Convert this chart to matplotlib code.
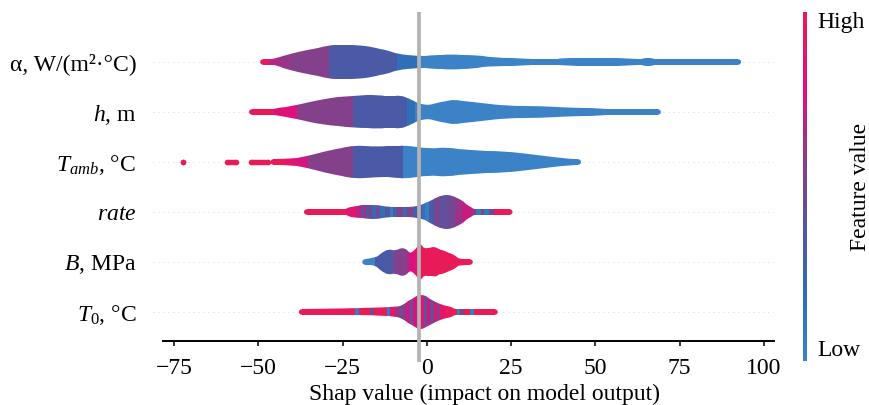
import numpy as np
import matplotlib
matplotlib.use("Agg")
import matplotlib.pyplot as plt
from matplotlib.colors import LinearSegmentedColormap
from matplotlib.patches import PathPatch
from matplotlib.path import Path
from matplotlib.cm import ScalarMappable

plt.rcParams['font.family'] = ['Liberation Serif', 'DejaVu Serif']
plt.rcParams['mathtext.fontset'] = 'custom'
plt.rcParams['mathtext.rm'] = 'Liberation Serif'
plt.rcParams['mathtext.it'] = 'Liberation Serif:italic'

# feature names, top to bottom
features = ['α, W/(m²·°C)', '$h$, m', '$T_{amb}$, °C', '$rate$', '$B$, MPa', '$T_0$, °C']

# violin outlines: shap value knots and half width (in row units)
alpha_x = [-48.7, -47.1, -44.6, -40.7, -35.7, -29.0, -25.8, -20.9, -15.9, -12.0, -9.0, -3.1, 1.9, 6.8,
           13.7, 19.7, 30.6, 31.5, 38.5, 39.0, 50.4, 62.2, 63.2, 64.2, 67.2, 67.7, 92.4]
alpha_w = [0.055, 0.055, 0.07, 0.154, 0.234, 0.334, 0.346, 0.34, 0.30, 0.234, 0.166, 0.12, 0.134, 0.154,
           0.134, 0.086, 0.066, 0.055, 0.055, 0.07, 0.085, 0.066, 0.055, 0.072, 0.072, 0.055, 0.055]
h_x = [-52.0, -45.6, -45.0, -38.7, -30.8, -21.9, -13.9, -11.0, -8.0, -5.0, -0.1, 3.9, 7.8, 13.7,
       23.6, 33.5, 43.4, 53.3, 53.8, 68.6]
h_w = [0.055, 0.055, 0.07, 0.146, 0.254, 0.326, 0.334, 0.32, 0.334, 0.254, 0.12, 0.2, 0.254, 0.2,
       0.12, 0.12, 0.086, 0.06, 0.055, 0.055]
tamb_x = [-45.6, -42.1, -35.2, -28.8, -21.9, -14.9, -9.0, -7.0, 0.9, 5.8, 12.8, 22.6, 32.6, 42.4, 44.9]
tamb_w = [0.055, 0.06, 0.114, 0.234, 0.334, 0.30, 0.32, 0.334, 0.266, 0.294, 0.234, 0.214, 0.146, 0.06, 0.055]
rate_x = [-35.7, -24.3, -24.0, -20.9, -17.4, -14.5, -11.5, -7.5, -4.5, -1.6, 0.4, 2.4, 4.4, 7.3,
          10.3, 12.3, 13.7, 14.7, 24.6]
rate_w = [0.055, 0.055, 0.07, 0.114, 0.146, 0.14, 0.10, 0.106, 0.106, 0.14, 0.2, 0.28, 0.334, 0.334,
          0.234, 0.12, 0.066, 0.055, 0.055]
b_x = [-18.4, -15.4, -13.5, -11.5, -9.5, -7.0, -5.0, -3.6, -2.6, -1.6, -0.6, 0.9, 2.4, 3.6, 4.8,
       7.3, 8.8, 9.8, 12.8]
b_w = [0.055, 0.07, 0.186, 0.266, 0.214, 0.30, 0.166, 0.24, 0.366, 0.34, 0.266, 0.28, 0.30, 0.25, 0.234,
       0.166, 0.10, 0.06, 0.055]
t0_x = [-37.2, -9.5, -6.5, -4.5, -2.6, -1.1, 0.4, 2.4, 4.4, 7.3, 8.3, 8.8, 20.2]
t0_w = [0.055, 0.07, 0.166, 0.26, 0.346, 0.34, 0.28, 0.2, 0.146, 0.10, 0.06, 0.055, 0.055]

# mean feature value (0 = low, 1 = high) in bins along each violin
alpha_edges = [-48.7, -47.0, -44.0, -40.7, -29.0, -9.0, -3.0, 92.4]
alpha_vals = [1.0, 0.68, 0.6, 0.55, 0.35, 0.17, 0.0]
h_edges = [-52.0, -45.6, -38.7, -21.9, -6.0, -3.5, 68.6]
h_vals = [1.0, 0.8, 0.55, 0.35, 0.17, 0.0]
tamb_edges = [-45.6, -42.1, -38.5, -35.2, -21.9, -7.0, 44.9]
tamb_vals = [1.0, 0.88, 0.75, 0.55, 0.35, 0.0]
rate_edges = [-35.7, -24.3, -21.0, -19.5, -18.8, -18.0, -17.0, -16.2, -15.0, -14.0, -12.5, -11.0, -10.0,
              -9.0, -7.0, -6.0, -4.0, -3.0, -1.5, -0.5, 0.5, 2.0, 4.0, 6.0, 8.3, 10.5, 13.3, 14.5, 16.0,
              17.0, 18.5, 20.0, 24.6]
rate_vals = [1.0, 0.88, 0.7, 0.45, 0.65, 0.4, 0.55, 0.25, 0.45, 0.2, 0.35, 0.05, 0.3,
             0.55, 0.2, 0.55, 0.3, 0.45, 0.15, 0.05, 0.35, 0.5, 0.42, 0.48, 0.6, 0.72, 0.6, 0.08,
             0.5, 0.1, 0.5, 1.0]
b_edges = [-18.4, -15.4, -10.5, -9.5, -6.0, -5.0, -3.5, -2.6, 12.8]
b_vals = [0.0, 0.35, 0.45, 0.55, 0.68, 0.8, 0.9, 1.0]
t0_edges = [-37.2, -21.5, -20.3, -17.0, -15.8, -12.0, -11.0, -9.5, -8.0, -6.5, -5.0, -4.0, -3.0, -2.0,
            -1.0, 0.0, 1.0, 2.0, 3.0, 4.0, 5.5, 9.0, 9.8, 11.0, 12.8, 13.9, 20.2]
t0_vals = [1.0, 0.05, 1.0, 0.5, 1.0, 0.05, 0.9, 0.6, 0.5, 0.7, 0.45, 0.8, 0.4, 0.85,
           0.4, 0.8, 0.45, 0.85, 0.55, 0.9, 1.0, 0.05, 0.55, 1.0, 0.05, 1.0]

# isolated outlier points of T_amb (first and last dot centre of each run)
tamb_dots = [(-72.3, -72.3), (-59.2, -56.7), (-52.3, -47.3)]

ref_x = -2.5

violins = [(alpha_x, alpha_w, alpha_edges, alpha_vals),
           (h_x, h_w, h_edges, h_vals),
           (tamb_x, tamb_w, tamb_edges, tamb_vals),
           (rate_x, rate_w, rate_edges, rate_vals),
           (b_x, b_w, b_edges, b_vals),
           (t0_x, t0_w, t0_edges, t0_vals)]

cmap = LinearSegmentedColormap.from_list('feat', [(0.0, '#3b82c6'), (0.17, '#2f6fb8'), (0.35, '#4a5aa6'),
                                                  (0.55, '#85408b'), (0.78, '#dd0f80'), (1.0, '#e91a58')])


def smooth_edge(pts):
    # quadratic bezier through the midpoints of the knots
    verts = [pts[0]]
    codes = [Path.LINETO]
    for k in range(1, len(pts) - 1):
        mid = (pts[k] + pts[k + 1]) / 2
        verts += [pts[k], mid]
        codes += [Path.CURVE3, Path.CURVE3]
    verts.append(pts[-1])
    codes.append(Path.LINETO)
    return verts, codes


def violin_path(xs, ws, pos):
    top = np.column_stack([xs, pos + ws])
    bot = np.column_stack([xs[::-1], (pos - ws)[::-1]])
    v1, c1 = smooth_edge(top)
    v2, c2 = smooth_edge(bot)
    c1[0] = Path.MOVETO
    verts = v1 + v2 + [v1[0]]
    codes = c1 + c2 + [Path.CLOSEPOLY]
    return Path(np.array(verts), codes)


fig = plt.figure(figsize=(8.7, 4.05), dpi=100)
ax = fig.add_axes([0.1759, 0.1062, 0.7138, 0.8642])

n = len(features)
for i, (xs, ws, edges, vals) in enumerate(violins):
    pos = n - 1 - i
    ax.axhline(pos, color='#cccccc', lw=0.6, dashes=(1, 5), zorder=0)
    xs = np.array(xs)
    ws = np.array(ws)
    shape = PathPatch(violin_path(xs, ws, pos), fc='none', ec='none')
    ax.add_patch(shape)
    mesh = ax.pcolormesh(np.array(edges), [pos - 0.5, pos + 0.5], np.array([vals]),
                         cmap=cmap, vmin=0, vmax=1, shading='flat', antialiased=False, zorder=2)
    mesh.set_clip_path(shape)
    # round ends, like the scatter dots shap draws under the violin
    ax.scatter([xs[0], xs[-1]], [pos, pos], s=15, c=[vals[0], vals[-1]], cmap=cmap, vmin=0, vmax=1,
               linewidths=0, zorder=2)

tamb_pos = n - 1 - 2
for a, b in tamb_dots:
    ax.plot([a, b], [tamb_pos, tamb_pos], color=cmap(1.0), lw=3.9, marker='o', ms=4.0,
            mew=0, solid_capstyle='butt', zorder=2)

ax.axvline(ref_x, color='#b3b3b3', lw=2.7, zorder=3)

ax.set_xlim(-81.3, 103.0)
ax.set_ylim(-1, n)
ax.set_yticks(range(n))
ax.set_yticklabels(features[::-1], fontsize=17)
ax.tick_params(axis='y', length=0, pad=12)
ax.set_xticks([-75, -50, -25, 0, 25, 50, 75, 100])
ax.tick_params(axis='x', direction='out', length=3.5, width=1.1, labelsize=17, pad=8.5)
ax.set_xlabel('Shap value (impact on model output)', fontsize=17, labelpad=3.5, x=0.533)

for s in ['top', 'right', 'left']:
    ax.spines[s].set_visible(False)
ax.spines['bottom'].set_position(('data', -0.58))
ax.spines['bottom'].set_bounds(-78.4, 103.0)
ax.spines['bottom'].set_linewidth(1.4)
ax.patch.set_visible(False)

# colour bar for the feature value
cax = fig.add_axes([803 / 870, 1 - 361 / 405, 4 / 870, 349 / 405])
sm = ScalarMappable(cmap=cmap)
sm.set_clim(0, 1)
cb = fig.colorbar(sm, cax=cax, ticks=[])
cb.outline.set_visible(False)
cax.text(3.5, 1.0, 'High', transform=cax.transAxes, fontsize=17, va='top', ha='left')
cax.text(3.5, 0.0, 'Low', transform=cax.transAxes, fontsize=17, va='bottom', ha='left')
cax.text(14.5, 0.5, 'Feature value', transform=cax.transAxes, fontsize=17, va='center', ha='center',
         rotation=90)

fig.savefig('out.png', dpi=100)
